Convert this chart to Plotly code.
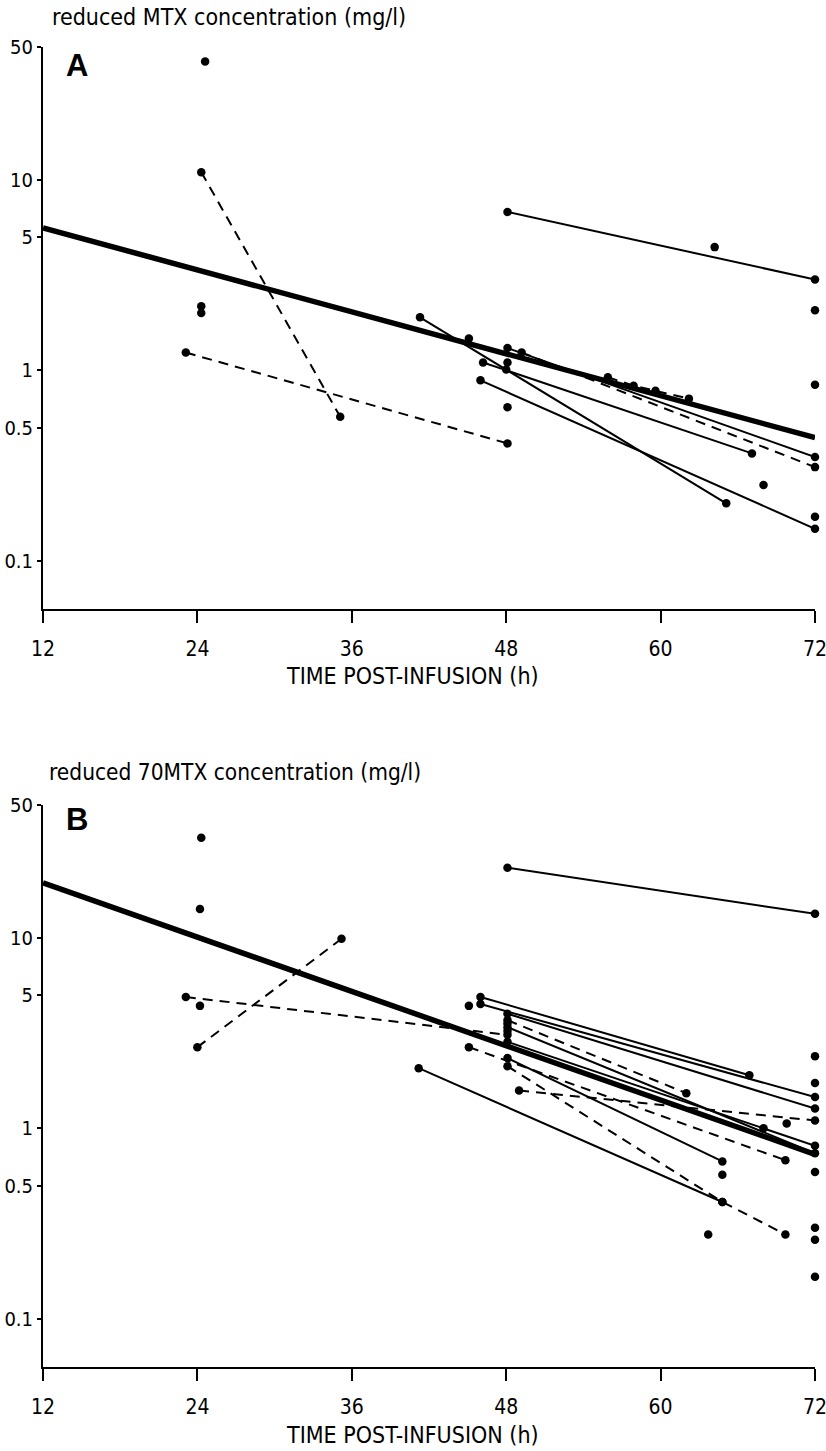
import math
import plotly.graph_objects as go

# ---------------- data ----------------
tick_hours = [12, 24, 36, 48, 60, 72]
y_tick_vals = [50, 10, 5, 1, 0.5, 0.1]
y_tick_text = ["50", "10", "5", "1", "0.5", "0.1"]

# Panel A: reduced MTX concentration (mg/l)
A_fit_t = [12, 72]
A_fit_c = [5.6, 0.443]

A_line_t = [[48.1, 72], [41.3, 48.0, 65.1], [46.2, 67.1], [46.0, 72], [48.1, 72],
            [49.2, 72], [24.3, 35.1], [23.1, 48.1], [55.9, 57.9, 59.6, 62.2]]
A_line_c = [[6.8, 3.0], [1.9, 1.01, 0.20], [1.10, 0.366], [0.886, 0.147], [1.31, 0.35],
            [1.24, 0.31], [11.0, 0.57], [1.24, 0.413], [0.92, 0.83, 0.78, 0.71]]
A_line_dash = [False, False, False, False, False, True, True, True, True]

A_pt_t = [24.6, 24.3, 24.3, 45.1, 48.1, 48.1, 64.2, 68.0, 72, 72, 72]
A_pt_c = [42, 2.17, 2.0, 1.47, 1.10, 0.64, 4.44, 0.25, 2.07, 0.84, 0.17]

# Panel B: reduced 7OMTX concentration (mg/l)
B_fit_t = [12, 72]
B_fit_c = [19.5, 0.73]

B_line_t = [[48.1, 72], [24.0, 35.2], [23.1, 48.1], [46.0, 66.9], [46.0, 72], [48.1, 72],
            [48.1, 62.0], [49.0, 72], [45.1, 69.7], [48.1, 64.8], [48.1, 64.8, 69.7],
            [41.2, 64.8], [48.1, 72], [48.1, 72]]
B_line_c = [[23.4, 13.4], [2.67, 9.9], [4.9, 3.1], [4.9, 1.9], [4.5, 1.46], [4.0, 1.27],
            [3.7, 1.53], [1.58, 1.10], [2.67, 0.68], [2.34, 0.67], [2.12, 0.41, 0.277],
            [2.07, 0.41], [2.85, 0.81], [3.4, 0.74]]
B_line_dash = [False, True, True, False, False, False, True, True, True, False, True,
               False, False, False]

B_pt_t = [24.3, 24.2, 24.2, 45.1, 48.1, 48.1, 64.8, 63.7, 69.8, 68.0,
          72, 72, 72, 72, 72, 72]
B_pt_c = [33.6, 14.2, 4.4, 4.4, 3.55, 3.25, 0.57, 0.277, 1.06, 1.0,
          2.39, 1.73, 0.59, 0.30, 0.26, 0.166]

# ---------------- layout helpers ----------------
W, H = 826, 1451
AX_L, AX_R = 43, 815          # page pixels of x=12 and x=72
ML, MR, MT, MB = AX_L, W - AX_R, 10, 10
PH = H - MT - MB
PW = W - ML - MR


def py(pix):
    return 1 - (pix - MT) / PH


def px(pix):
    return (pix - ML) / PW


FONT = "DejaVu Sans Condensed, Liberation Sans Narrow, Arial Narrow, sans-serif"
BLACK = "#000000"

fig = go.Figure()


def add_panel(xa, ya, fit_t, fit_c, line_t, line_c, line_dash, pt_t, pt_c):
    for t, c, d in zip(line_t, line_c, line_dash):
        fig.add_trace(go.Scatter(
            x=t, y=c, mode="lines+markers", xaxis=xa, yaxis=ya,
            line=dict(color=BLACK, width=2, dash="10px,7px" if d else "solid"),
            marker=dict(color=BLACK, size=8.5), cliponaxis=False, hoverinfo="skip"))
    fig.add_trace(go.Scatter(
        x=pt_t, y=pt_c, mode="markers", xaxis=xa, yaxis=ya,
        marker=dict(color=BLACK, size=8.5), cliponaxis=False, hoverinfo="skip"))
    fig.add_trace(go.Scatter(
        x=fit_t, y=fit_c, mode="lines", xaxis=xa, yaxis=ya,
        line=dict(color=BLACK, width=5.5), cliponaxis=False, hoverinfo="skip"))


add_panel("x", "y", A_fit_t, A_fit_c, A_line_t, A_line_c, A_line_dash, A_pt_t, A_pt_c)
add_panel("x2", "y2", B_fit_t, B_fit_c, B_line_t, B_line_c, B_line_dash, B_pt_t, B_pt_c)

yrange = [math.log10(0.0557), math.log10(50)]

xcommon = dict(range=[12, 72], tickvals=tick_hours, ticks="outside", ticklen=12,
               tickwidth=2, tickcolor=BLACK, showline=True, linecolor=BLACK, linewidth=2,
               showgrid=False, zeroline=False, ticklabelstandoff=8, automargin=False,
               ticklabeloverflow="allow",
               tickfont=dict(family=FONT, size=21, color=BLACK))
ycommon = dict(type="log", range=yrange, tickvals=y_tick_vals, ticktext=y_tick_text,
               ticks="outside", ticklen=4, tickwidth=1.5, tickcolor=BLACK,
               showline=True, linecolor=BLACK, linewidth=2, showgrid=False,
               zeroline=False, ticklabelstandoff=0, automargin=False,
               ticklabeloverflow="allow",
               tickfont=dict(family=FONT, size=20, color=BLACK))

fig.update_layout(
    width=W, height=H, margin=dict(l=ML, r=MR, t=MT, b=MB, autoexpand=False),
    paper_bgcolor="white", plot_bgcolor="white", showlegend=False,
    xaxis=dict(domain=[0, 1], anchor="y", **xcommon),
    yaxis=dict(domain=[py(609), py(47)], anchor="x", **ycommon),
    xaxis2=dict(domain=[0, 1], anchor="y2", **xcommon),
    yaxis2=dict(domain=[py(1367), py(805)], anchor="x2", **ycommon),
)

ann = []
ann.append(dict(text="reduced MTX concentration (mg/l)", x=px(50), y=py(17),
                xanchor="left", yanchor="middle",
                font=dict(family=FONT, size=23, color=BLACK)))
ann.append(dict(text="reduced 70MTX concentration (mg/l)", x=px(47), y=py(772),
                xanchor="left", yanchor="middle",
                font=dict(family=FONT, size=22.5, color=BLACK)))
for txt, y in [("TIME POST-INFUSION (h)", 676), ("TIME POST-INFUSION (h)", 1435)]:
    ann.append(dict(text=txt, x=px(412), y=py(y), xanchor="center", yanchor="middle",
                    font=dict(family=FONT, size=23, color=BLACK)))
for txt, y in [("<b>A</b>", 66), ("<b>B</b>", 819)]:
    ann.append(dict(text=txt, x=px(64), y=py(y), xanchor="left", yanchor="middle",
                    font=dict(family="Liberation Sans, Arial, sans-serif", size=31,
                              color=BLACK)))
for a in ann:
    a.update(xref="paper", yref="paper", showarrow=False)
fig.update_layout(annotations=ann)

# remove the default 8px page margin so the figure fills the window exactly
fig.write_html("out.html", config={"displayModeBar": False},
               post_script="document.body.style.margin='0';")
